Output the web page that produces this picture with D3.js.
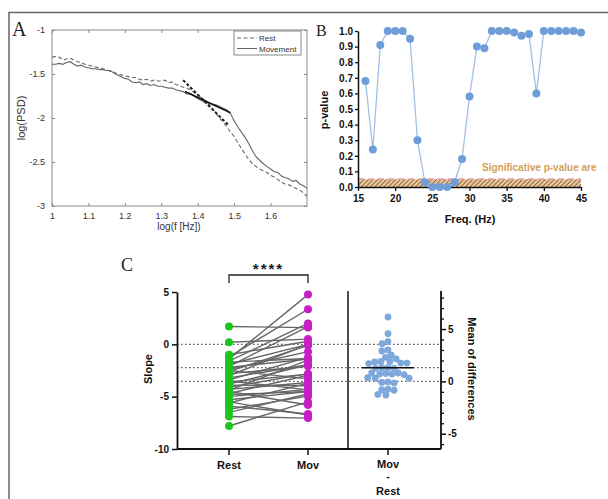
<!DOCTYPE html>
<html><head><meta charset="utf-8">
<script src="https://cdn.jsdelivr.net/npm/d3@7"></script>
<style>body{margin:0;background:#fff} svg{display:block}</style>
</head><body><svg id="fig" width="608" height="499"></svg>
<script>
// ---------- Panel A: spectra ----------
const logF = [1.00,1.01,1.02,1.03,1.04,1.05,1.06,1.07,1.08,1.09,1.10,1.11,1.12,1.13,1.14,1.15,1.16,1.17,1.18,1.19,
  1.20,1.21,1.22,1.23,1.24,1.25,1.26,1.27,1.28,1.29,1.30,1.31,1.32,1.33,1.34,1.35,1.36,1.37,1.38,1.39,
  1.40,1.41,1.42,1.43,1.44,1.45,1.46,1.47,1.48,1.49,1.50,1.51,1.52,1.53,1.54,1.55,1.56,1.57,1.58,1.59,
  1.60,1.61,1.62,1.63,1.64,1.65,1.66,1.67,1.68,1.69,1.70];
const psdRest = [-1.31,-1.30,-1.31,-1.34,-1.33,-1.32,-1.34,-1.36,-1.37,-1.39,-1.40,-1.41,-1.42,-1.43,-1.44,-1.45,-1.47,-1.48,-1.50,-1.51,
  -1.52,-1.53,-1.54,-1.54,-1.56,-1.57,-1.56,-1.58,-1.57,-1.58,-1.58,-1.57,-1.60,-1.59,-1.62,-1.63,-1.65,-1.66,-1.68,-1.71,
  -1.74,-1.77,-1.80,-1.84,-1.89,-1.95,-2.00,-2.05,-2.10,-2.16,-2.21,-2.28,-2.35,-2.41,-2.47,-2.52,-2.55,-2.58,-2.60,-2.62,
  -2.65,-2.67,-2.70,-2.73,-2.75,-2.76,-2.78,-2.80,-2.82,-2.85,-2.89];
const psdMovement = [-1.39,-1.39,-1.38,-1.39,-1.37,-1.36,-1.39,-1.41,-1.40,-1.42,-1.43,-1.44,-1.44,-1.45,-1.45,-1.46,-1.46,-1.49,-1.51,-1.53,
  -1.55,-1.56,-1.59,-1.60,-1.59,-1.62,-1.61,-1.63,-1.62,-1.64,-1.64,-1.65,-1.66,-1.66,-1.68,-1.69,-1.70,-1.73,-1.72,-1.75,
  -1.78,-1.80,-1.82,-1.83,-1.84,-1.85,-1.87,-1.89,-1.91,-1.95,-2.03,-2.10,-2.16,-2.22,-2.29,-2.37,-2.44,-2.48,-2.52,-2.55,
  -2.58,-2.61,-2.62,-2.66,-2.68,-2.69,-2.72,-2.71,-2.75,-2.77,-2.80];
const fitRest = [[1.36,-1.57],[1.484,-2.08]];
const fitMovement = [[1.365,-1.70],[1.49,-1.94]];
const aXTicks = [1,1.1,1.2,1.3,1.4,1.5,1.6];
const aYTicks = [-1,-1.5,-2,-2.5,-3];

// ---------- Panel B: p-value per frequency ----------
const freqHz = [16,17,18,19,20,21,22,23,24,25,26,27,28,29,30,31,32,33,34,35,36,37,38,39,40,41,42,43,44,45];
const pValues = [0.68,0.24,0.91,1.0,1.0,1.0,0.95,0.30,0.03,0.0,0.0,0.0,0.03,0.18,0.58,0.90,0.89,1.0,1.0,1.0,
  0.99,0.97,0.98,0.60,1.0,1.0,1.0,1.0,1.0,0.99];
const sigLevel = 0.05;
const bXTicks = [15,20,25,30,35,40,45];
const bYTicks = [0,0.1,0.2,0.3,0.4,0.5,0.6,0.7,0.8,0.9,1.0];

// ---------- Panel C: paired slopes ----------
const slopeRest = [1.7,0.2,-1.4,-1.2,-1.6,-2.1,-3.0,-4.4,-2.6,-7.8,-3.4,-1.9,-2.4,-3.8,-4.7,-5.6,-6.5,-1.0,
  -3.2,-4.1,-6.2,-2.2,-2.8,-3.6,-4.3,-5.3,-5.0,-1.7,-4.8,-3.9,-6.9,-2.5,-5.9,-3.5,-4.5,-5.5];
const slopeMov = [1.6,0.5,4.75,3.35,2.0,1.7,0.0,-1.5,-0.1,-5.5,-1.25,0.0,-0.7,-1.95,-2.95,-3.7,-4.75,0.3,
  -1.95,-2.8,-4.95,-1.4,-2.1,-2.85,-3.65,-4.5,-4.3,-1.35,-4.5,-3.95,-7.05,-3.3,-6.65,-4.35,-5.8,-6.75];
const groups = ["Rest","Mov"];
const cYTicks = [5,0,-5,-10];
const dMajorTicks = [5,0,-5];
const dMinorTicks = [-6,-4,-3,-2,-1,1,2,3,4,6,7,8];

const svg = d3.select("#fig");
svg.append("rect").attr("width",608).attr("height",499).attr("fill","#fff");
// figure frame
svg.append("path").attr("d","M9,499V12.5H608").attr("fill","none").attr("stroke","#666").attr("stroke-width",1.5);

const sans = "'Liberation Sans', Arial, sans-serif";
const serif = "'Liberation Serif', 'Times New Roman', serif";

// ================= Panel A =================
const xA = d3.scaleLinear().domain([1,1.7]).range([52,307]);
const yA = d3.scaleLinear().domain([-3,-1]).range([206,30]);
const gA = svg.append("g");
const styleAxisA = g => {
  g.select(".domain").remove();
  g.selectAll("line").attr("stroke","#888");
  g.selectAll("text").attr("fill","#333").style("font-family",sans).style("font-size","9px");
};
gA.append("g").attr("transform","translate(0,206)")
  .call(d3.axisBottom(xA).tickValues(aXTicks).tickSizeInner(-3).tickSizeOuter(0).tickPadding(7).tickFormat(d=>String(+d.toFixed(1))))
  .call(styleAxisA);
gA.append("g").attr("transform","translate(0,30)")
  .call(d3.axisTop(xA).tickValues(aXTicks).tickSizeInner(-3).tickSizeOuter(0).tickFormat(""))
  .call(styleAxisA);
gA.append("g").attr("transform","translate(52,0)")
  .call(d3.axisLeft(yA).tickValues(aYTicks).tickSizeInner(-3).tickSizeOuter(0).tickPadding(7).tickFormat(d=>String(d)))
  .call(styleAxisA);
gA.append("g").attr("transform","translate(307,0)")
  .call(d3.axisRight(yA).tickValues(aYTicks).tickSizeInner(-3).tickSizeOuter(0).tickFormat(""))
  .call(styleAxisA);
gA.append("rect").attr("x",52).attr("y",30).attr("width",255).attr("height",176)
  .attr("fill","none").attr("stroke","#8a8a8a").attr("stroke-width",1);

const lineA = d3.line().x(d=>xA(d[0])).y(d=>yA(d[1]));
gA.append("path").datum(logF.map((f,i)=>[f,psdRest[i]])).attr("d",lineA)
  .attr("fill","none").attr("stroke","#666").attr("stroke-width",1.1).attr("stroke-dasharray","4,2.5");
gA.append("path").datum(logF.map((f,i)=>[f,psdMovement[i]])).attr("d",lineA)
  .attr("fill","none").attr("stroke","#666").attr("stroke-width",1.1);
gA.append("path").datum(fitRest).attr("d",lineA)
  .attr("fill","none").attr("stroke","#222").attr("stroke-width",2).attr("stroke-dasharray","3,2");
gA.append("path").datum(fitMovement).attr("d",lineA)
  .attr("fill","none").attr("stroke","#111").attr("stroke-width",1.6);

// legend
const legA = gA.append("g");
legA.append("rect").attr("x",234).attr("y",31).attr("width",67).attr("height",24)
  .attr("fill","#fff").attr("stroke","#888").attr("stroke-width",1);
legA.append("line").attr("x1",237).attr("x2",257).attr("y1",38).attr("y2",38)
  .attr("stroke","#666").attr("stroke-dasharray","4,2.5");
legA.append("line").attr("x1",237).attr("x2",257).attr("y1",48.5).attr("y2",48.5).attr("stroke","#666");
legA.append("text").attr("x",259).attr("y",41).text("Rest")
  .style("font-family",sans).style("font-size","8px").attr("fill","#333");
legA.append("text").attr("x",259).attr("y",51.5).text("Movement")
  .style("font-family",sans).style("font-size","8px").attr("fill","#333");

gA.append("text").attr("transform","translate(25,118) rotate(-90)").attr("text-anchor","middle")
  .text("log(PSD)").style("font-family",sans).style("font-size","11px").attr("fill","#333");
gA.append("text").attr("x",179).attr("y",230).attr("text-anchor","middle")
  .text("log(f [Hz])").style("font-family",sans).style("font-size","10px").attr("fill","#333");
svg.append("text").attr("x",12).attr("y",36).text("A")
  .style("font-family",serif).style("font-size","20px").attr("fill","#222");

// ================= Panel B =================
const xB = d3.scaleLinear().domain([15,45]).range([358,581]);
const yB = d3.scaleLinear().domain([0,1]).range([187,31]);
const gB = svg.append("g");

const defs = svg.append("defs");
const pat = defs.append("pattern").attr("id","hatch").attr("patternUnits","userSpaceOnUse")
  .attr("width",3.2).attr("height",3.2).attr("patternTransform","rotate(45)");
pat.append("rect").attr("width",3.2).attr("height",3.2).attr("fill","#e6c79c");
pat.append("line").attr("x1",0).attr("x2",0).attr("y1",0).attr("y2",3.2).attr("stroke","#7f4f22").attr("stroke-width",1.5);

gB.append("rect").attr("x",xB(15)).attr("y",yB(sigLevel)).attr("width",xB(45)-xB(15)).attr("height",yB(0)-yB(sigLevel))
  .attr("fill","url(#hatch)");
gB.append("line").attr("x1",xB(15)).attr("x2",xB(45)).attr("y1",yB(sigLevel)).attr("y2",yB(sigLevel))
  .attr("stroke","#e3a3a0").attr("stroke-width",2).attr("stroke-dasharray","6,4");

const styleAxisB = g => {
  g.select(".domain").attr("stroke","#111").attr("stroke-width",1.5);
  g.selectAll(".tick line").attr("stroke","#111").attr("stroke-width",1.3);
  g.selectAll("text").attr("fill","#111").style("font-family",sans).style("font-size","10px").style("font-weight","bold");
};
gB.append("g").attr("transform","translate(0,187)")
  .call(d3.axisBottom(xB).tickValues(bXTicks).tickSizeInner(4).tickSizeOuter(0).tickPadding(4).tickFormat(d3.format("d")))
  .call(styleAxisB);
gB.append("g").attr("transform","translate(358,0)")
  .call(d3.axisLeft(yB).tickValues(bYTicks).tickSizeInner(3).tickSizeOuter(0).tickPadding(2).tickFormat(d3.format(".1f")))
  .call(styleAxisB);

gB.append("path").datum(freqHz.map((f,i)=>[f,pValues[i]]))
  .attr("d",d3.line().x(d=>xB(d[0])).y(d=>yB(d[1])))
  .attr("fill","none").attr("stroke","#a3bfe6").attr("stroke-width",1.3);
gB.selectAll("circle.pv").data(freqHz.map((f,i)=>[f,pValues[i]])).join("circle")
  .attr("class","pv").attr("cx",d=>xB(d[0])).attr("cy",d=>yB(d[1])).attr("r",4)
  .attr("fill","#6f9dd8");

gB.append("text").attr("x",482).attr("y",171).text("Significative p-value are")
  .style("font-family",sans).style("font-size","10px").style("font-weight","bold").attr("fill","#d49f58");
gB.append("text").attr("transform","translate(328,110) rotate(-90)").attr("text-anchor","middle")
  .text("p-value").style("font-family",sans).style("font-size","11px").style("font-weight","bold").attr("fill","#111");
gB.append("text").attr("x",470).attr("y",223).attr("text-anchor","middle")
  .text("Freq. (Hz)").style("font-family",sans).style("font-size","11px").style("font-weight","bold").attr("fill","#111");
svg.append("text").attr("x",316).attr("y",36).text("B")
  .style("font-family",serif).style("font-size","16px").attr("fill","#222");

// ================= Panel C =================
const yC = d3.scaleLinear().domain([-10,5]).range([449,292]);
const xC = d3.scalePoint().domain(groups).range([229,308]);
const xDiff = 388;
const gC = svg.append("g");

const diffs = slopeRest.map((r,i)=>slopeMov[i]-r);
const restMean = d3.mean(slopeRest), movMean = d3.mean(slopeMov), diffMean = d3.mean(diffs);
const yD = d3.scaleLinear().domain([-10-restMean, 5-restMean]).range([449,292]);

// reference lines
[0, movMean, restMean].forEach(v=>{
  gC.append("line").attr("x1",177).attr("x2",441).attr("y1",yC(v)).attr("y2",yC(v))
    .attr("stroke","#555").attr("stroke-width",1.2).attr("stroke-dasharray","1.5,2.5");
});

// paired lines
gC.selectAll("line.pair").data(slopeRest.map((r,i)=>[r,slopeMov[i]])).join("line")
  .attr("class","pair").attr("x1",xC("Rest")).attr("x2",xC("Mov"))
  .attr("y1",d=>yC(d[0])).attr("y2",d=>yC(d[1]))
  .attr("stroke","#666").attr("stroke-width",1.4);
gC.selectAll("circle.rest").data(slopeRest).join("circle").attr("class","rest")
  .attr("cx",xC("Rest")).attr("cy",d=>yC(d)).attr("r",4).attr("fill","#1fc41f");
gC.selectAll("circle.mov").data(slopeMov).join("circle").attr("class","mov")
  .attr("cx",xC("Mov")).attr("cy",d=>yC(d)).attr("r",4).attr("fill","#c71fc7");

// swarm of paired differences (greedy dodge, slight overlap allowed)
const rD = 3.4, sep = 6.1;
const placed = [];
diffs.map(d=>({d, y:yD(d)})).sort((a,b)=>b.d-a.d).forEach(p=>{
  const cands = [0];
  placed.forEach(q=>{
    const dy = Math.abs(q.y-p.y);
    if (dy < sep) { const dx = Math.sqrt(sep*sep-dy*dy)+0.1; cands.push(q.x+dx, q.x-dx); }
  });
  cands.sort((a,b)=>Math.abs(a)-Math.abs(b) || a-b);
  const ok = c => placed.every(q=>(q.x-c)**2+(q.y-p.y)**2 >= sep*sep-0.01);
  p.x = cands.find(ok);
  placed.push(p);
});
gC.selectAll("circle.diff").data(placed).join("circle").attr("class","diff")
  .attr("cx",d=>xDiff+d.x).attr("cy",d=>d.y).attr("r",rD).attr("fill","#7ea7db");
gC.append("line").attr("x1",xDiff-26).attr("x2",xDiff+26).attr("y1",yD(diffMean)).attr("y2",yD(diffMean))
  .attr("stroke","#111").attr("stroke-width",1.5);

// axes
const boldText = g => g.selectAll("text").attr("fill","#111").style("font-family",sans)
  .style("font-size","10px").style("font-weight","bold");
gC.append("g").attr("transform","translate(177,0)")
  .call(d3.axisLeft(yC).tickValues(cYTicks).tickSizeInner(5).tickSizeOuter(0).tickPadding(3).tickFormat(d=>String(d)))
  .call(g=>{g.select(".domain").attr("stroke","#111").attr("stroke-width",1.8);
            g.selectAll(".tick line").attr("stroke","#111").attr("stroke-width",1.5);})
  .call(boldText);
gC.append("line").attr("x1",177).attr("x2",441).attr("y1",449).attr("y2",449).attr("stroke","#111").attr("stroke-width",1.8);
[xC("Rest"), xC("Mov"), xDiff].forEach(x=>{
  gC.append("line").attr("x1",x).attr("x2",x).attr("y1",449).attr("y2",455).attr("stroke","#111").attr("stroke-width",1.5);
});
gC.append("line").attr("x1",348).attr("x2",348).attr("y1",291).attr("y2",449).attr("stroke","#111").attr("stroke-width",1.5);
gC.append("g").attr("transform","translate(441,0)")
  .call(d3.axisRight(yD).tickValues(dMajorTicks).tickSizeInner(5).tickSizeOuter(0).tickPadding(2).tickFormat(d=>String(d)))
  .call(g=>{g.select(".domain").remove();
            g.selectAll(".tick line").attr("stroke","#111").attr("stroke-width",1.5);})
  .call(boldText);
gC.append("g").attr("transform","translate(441,0)")
  .call(d3.axisRight(yD).tickValues(dMinorTicks).tickSizeInner(3).tickSizeOuter(0).tickFormat(""))
  .call(g=>{g.select(".domain").remove(); g.selectAll(".tick line").attr("stroke","#111").attr("stroke-width",1.3);});
gC.append("line").attr("x1",441).attr("x2",441).attr("y1",291).attr("y2",449).attr("stroke","#111").attr("stroke-width",1.8);

// category labels
const lab = (x,y,t,anchor="middle") => gC.append("text").attr("x",x).attr("y",y).attr("text-anchor",anchor).text(t)
  .style("font-family",sans).style("font-size","11px").style("font-weight","bold").attr("fill","#111");
groups.forEach(gn=>lab(xC(gn),469,gn));
lab(xDiff,468,"Mov"); lab(xDiff,480,"-"); lab(xDiff,495,"Rest");

gC.append("text").attr("transform","translate(152,369) rotate(-90)").attr("text-anchor","middle")
  .text("Slope").style("font-family",sans).style("font-size","11px").style("font-weight","bold").attr("fill","#111");
gC.append("text").attr("transform","translate(468,369) rotate(90)").attr("text-anchor","middle")
  .text("Mean of differences").style("font-family",sans).style("font-size","11px").style("font-weight","bold").attr("fill","#111");

// significance bracket
gC.append("path").attr("d",`M${xC("Rest")},283V275H${xC("Mov")}V283`).attr("fill","none")
  .attr("stroke","#222").attr("stroke-width",1.3);
gC.append("text").attr("x",(xC("Rest")+xC("Mov"))/2).attr("y",274).attr("text-anchor","middle")
  .text("****").style("font-family",sans).style("font-size","15px").style("font-weight","bold")
  .style("letter-spacing","2px").attr("fill","#1a1a2a");
svg.append("text").attr("x",121).attr("y",271).text("C")
  .style("font-family",serif).style("font-size","18px").attr("fill","#222");
</script></body></html>
